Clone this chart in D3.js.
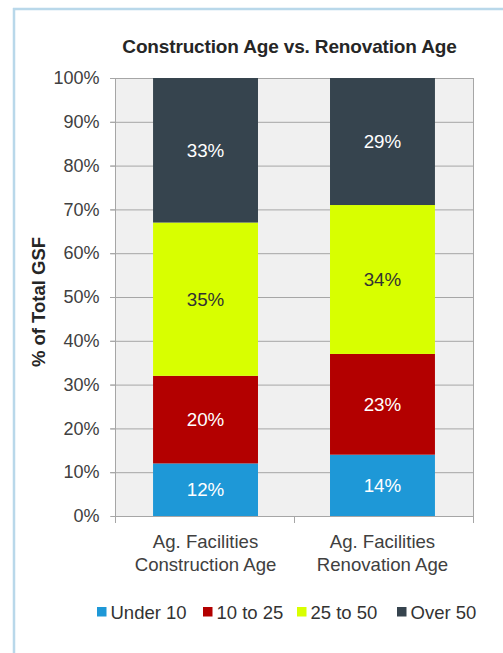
<!DOCTYPE html>
<html><head><meta charset="utf-8">
<script src="https://cdn.jsdelivr.net/npm/d3@7"></script>
<style>html,body{margin:0;padding:0;background:#fff;}svg{display:block;font-family:"Liberation Sans",Arial,sans-serif;}</style>
</head><body>
<svg id="c" width="503" height="653"></svg>
<script>
const categories = ["Ag. Facilities\nConstruction Age", "Ag. Facilities\nRenovation Age"];
const seriesNames = ["Under 10", "10 to 25", "25 to 50", "Over 50"];
const under10 = [12, 14];
const to25 = [20, 23];
const to50 = [35, 34];
const over50 = [33, 29];
const colors = ["#1e98d7", "#b30000", "#d8ff00", "#36444e"];
const labelColors = ["#ffffff", "#ffffff", "#333333", "#ffffff"];
const yTicks = [0, 10, 20, 30, 40, 50, 60, 70, 80, 90, 100];

const svg = d3.select("#c");
// frame
svg.append("line").attr("x1", 14).attr("x2", 14).attr("y1", 8).attr("y2", 653).attr("stroke", "#b9d8ea").attr("stroke-width", 2.5);
svg.append("line").attr("x1", 13).attr("x2", 503).attr("y1", 9).attr("y2", 9).attr("stroke", "#b9d8ea").attr("stroke-width", 2.5);

const L = 115, R = 473, T = 78, B = 516;
const x = d3.scaleBand().domain(categories).range([L, R]).paddingInner(0.407).paddingOuter(0.215);
const y = d3.scaleLinear().domain([0, 100]).range([B, T]);

svg.append("rect").attr("x", L).attr("y", T).attr("width", R - L).attr("height", B - T).attr("fill", "#f0f0f0");
// gridlines
svg.append("g").selectAll("line").data(yTicks.filter(d => d > 0)).join("line")
  .attr("x1", L - 5).attr("x2", R).attr("y1", d => y(d) + 0.5).attr("y2", d => y(d) + 0.5)
  .attr("stroke", "#a6a6a6").attr("stroke-width", 1);
svg.append("line").attr("x1", R + 0.5).attr("x2", R + 0.5).attr("y1", T).attr("y2", B + 7).attr("stroke", "#a6a6a6");

const data = categories.map((c, i) => ({cat: c, "Under 10": under10[i], "10 to 25": to25[i], "25 to 50": to50[i], "Over 50": over50[i]}));
const stack = d3.stack().keys(seriesNames)(data);

const g = svg.append("g");
stack.forEach((s, si) => {
  g.selectAll(null).data(s).join("rect")
    .attr("x", d => x(d.data.cat)).attr("width", x.bandwidth())
    .attr("y", d => y(d[1])).attr("height", d => y(d[0]) - y(d[1]))
    .attr("fill", colors[si]);
  g.selectAll(null).data(s).join("text")
    .attr("x", d => x(d.data.cat) + x.bandwidth() / 2)
    .attr("y", d => y((d[0] + d[1]) / 2))
    .attr("dy", "0.35em").attr("text-anchor", "middle")
    .attr("font-size", 18.8).attr("fill", labelColors[si])
    .text(d => (d[1] - d[0]) + "%");
});

// y axis
const yAxis = d3.axisLeft(y).tickValues(yTicks).tickFormat(d => d + "%").tickSize(5).tickPadding(11);
const ya = svg.append("g").attr("transform", `translate(${L + 0.5},0)`).call(yAxis);
ya.select(".domain").attr("stroke", "#a6a6a6").attr("d", `M-5,${B + 0.5}H0V${T}`);
ya.selectAll(".tick line").attr("stroke", "#a6a6a6");
ya.selectAll(".tick text").attr("font-size", 18).attr("fill", "#404040").attr("font-family", "Liberation Sans, Arial, sans-serif");

// x axis baseline + ticks
svg.append("line").attr("x1", L).attr("x2", R + 1).attr("y1", B + 0.5).attr("y2", B + 0.5).attr("stroke", "#a6a6a6");
const xb = [L, (x(categories[0]) + x.bandwidth() + x(categories[1])) / 2, R];
svg.append("g").selectAll("line").data(xb).join("line")
  .attr("x1", d => Math.round(d) + 0.5).attr("x2", d => Math.round(d) + 0.5).attr("y1", B).attr("y2", B + 7).attr("stroke", "#a6a6a6");
categories.forEach(c => {
  const t = svg.append("text").attr("text-anchor", "middle").attr("font-size", 18.6).attr("fill", "#404040");
  c.split("\n").forEach((line, i) => {
    t.append("tspan").attr("x", x(c) + x.bandwidth() / 2).attr("y", 548 + i * 22.5).text(line);
  });
});

// title
svg.append("text").attr("x", 289.5).attr("y", 53).attr("text-anchor", "middle")
  .attr("font-size", 19).attr("font-weight", "bold").attr("fill", "#262626").attr("letter-spacing", -0.15)
  .text("Construction Age vs. Renovation Age");

// y title
svg.append("text").attr("transform", "translate(45,302) rotate(-90)").attr("text-anchor", "middle")
  .attr("font-size", 18.5).attr("font-weight", "bold").attr("fill", "#262626")
  .text("% of Total GSF");

// legend
const legendX = [97, 203, 297, 397];
const lg = svg.append("g");
seriesNames.forEach((n, i) => {
  lg.append("rect").attr("x", legendX[i]).attr("y", 607).attr("width", 9.5).attr("height", 9.5).attr("fill", colors[i]);
  lg.append("text").attr("x", legendX[i] + 13.5).attr("y", 618.5).attr("font-size", 18.5).attr("fill", "#333333").text(n);
});
</script>
</body></html>
